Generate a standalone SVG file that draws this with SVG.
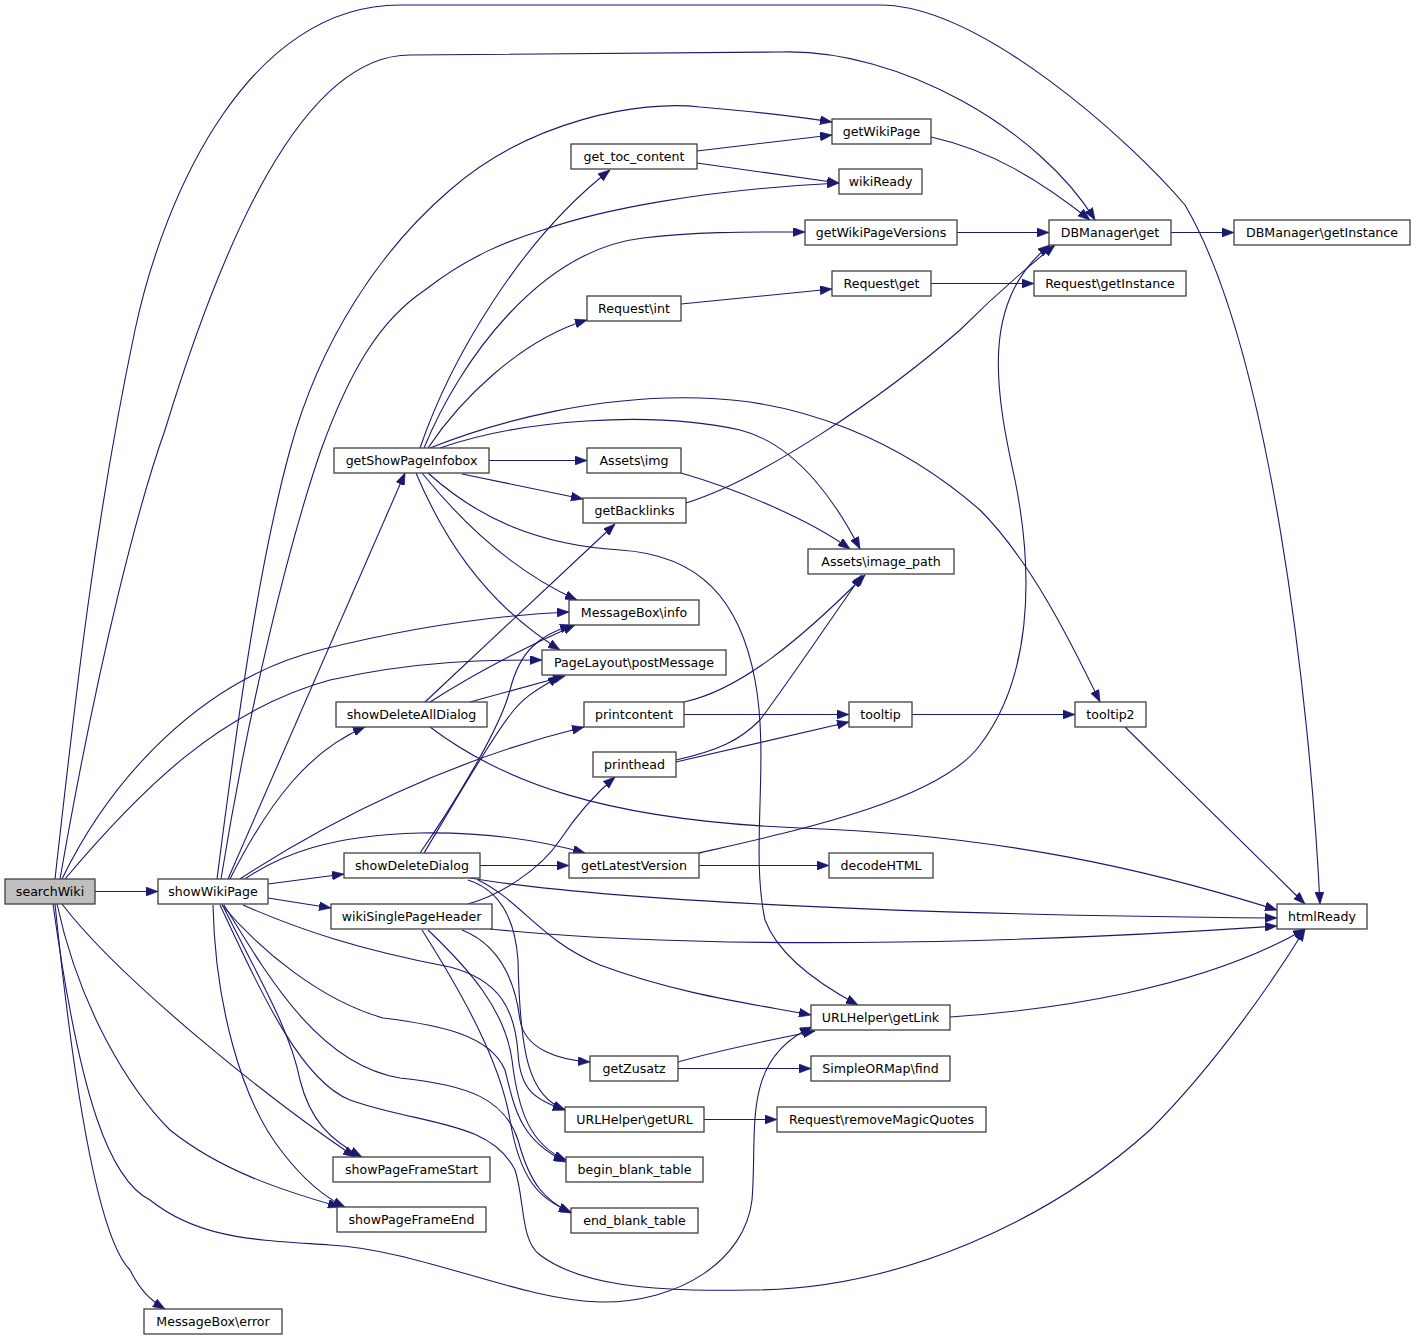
<svg xmlns="http://www.w3.org/2000/svg" width="1416" height="1341" viewBox="0 0 1416 1341">
<style>
.n rect{fill:#ffffff;stroke:#404040;stroke-width:1.3}
.n.root rect{fill:#bfbfbf}
.n text{font-family:"DejaVu Sans","Liberation Sans",sans-serif;font-size:12.6px;fill:#000;text-anchor:middle}
#edges path{fill:none;stroke:#191970;stroke-width:1.1;marker-end:url(#ah)}
</style>
<defs>
<marker id="ah" markerUnits="userSpaceOnUse" markerWidth="12" markerHeight="9" viewBox="0 0 10 7.5" refX="10" refY="3.75" orient="auto">
<path d="M0,0 L10,3.75 L0,7.5 z" fill="#191970" stroke="#191970" stroke-width="0.5"/>
</marker>
</defs>
<rect width="1416" height="1341" fill="#ffffff"/>
<g id="edges">
<path d="M95,891.5 L158,891.5"/>
<path d="M55,879 C75,700 95,520 135,330 C165,190 250,5 400,5 L880,5 C980,5 1130,140 1185,205 C1270,350 1310,700 1320,904"/>
<path d="M60,879 C100,650 140,500 165,430 C220,250 300,55 410,55 L780,52 C900,48 1040,130 1095,220"/>
<path d="M62,879 C110,780 200,680 320,650 C420,625 500,615 569,612"/>
<path d="M65,879 C140,790 220,710 330,680 C420,660 490,660 542,660"/>
<path d="M62,904 C120,980 270,1100 355,1157"/>
<path d="M57,904 C80,1010 130,1090 170,1130 C220,1170 280,1190 340,1207"/>
<path d="M53,904 C80,1100 110,1180 150,1200 C200,1240 260,1240 330,1245 C420,1250 520,1300 600,1302 C680,1303 745,1260 752,1200 C758,1130 740,1060 812,1027"/>
<path d="M55,904 C75,1100 100,1240 130,1270 C140,1290 150,1300 165,1309"/>
<path d="M228,879 L405,473"/>
<path d="M230,879 C270,800 310,750 365,727"/>
<path d="M268,884 L344,874"/>
<path d="M268,898 L331,908"/>
<path d="M240,879 C330,820 450,760 584,727"/>
<path d="M245,879 C280,855 330,835 420,833 C490,832 540,840 585,853"/>
<path d="M217,879 C240,700 260,560 290,450 C320,340 380,250 450,190 C530,120 640,100 700,107 C760,112 800,117 832,122"/>
<path d="M221,879 C250,700 290,540 321,450 C350,370 380,320 425,290 C470,255 510,240 543,230 C600,210 700,190 839,183"/>
<path d="M222,904 C260,980 290,1030 300,1080 C310,1120 330,1140 362,1157"/>
<path d="M213,905 C215,1000 240,1100 283,1153 C300,1175 320,1195 345,1207"/>
<path d="M220,905 C260,990 300,1080 350,1100 C420,1125 490,1120 515,1170 C525,1200 520,1240 540,1255 C580,1285 650,1292 750,1290 C900,1290 1050,1220 1150,1130 C1220,1060 1280,970 1305,929"/>
<path d="M243,905 C300,930 360,950 450,967 C500,980 515,1010 518,1053 C520,1090 535,1100 565,1110"/>
<path d="M222,905 C260,950 320,1000 383,1018 C440,1025 490,1035 505,1070 C515,1110 520,1140 566,1162"/>
<path d="M224,905 C270,980 320,1065 400,1078 C470,1085 505,1100 518,1140 C530,1185 545,1200 571,1213"/>
<path d="M420,448 C450,360 520,240 610,170"/>
<path d="M424,448 C460,360 540,250 643,238 C700,231 760,232 805,232"/>
<path d="M428,448 C460,400 520,340 587,320"/>
<path d="M489,460.5 L587,460.5"/>
<path d="M462,474 L583,499"/>
<path d="M440,448 C520,420 650,410 740,430 C800,445 840,510 860,549"/>
<path d="M430,448 C500,420 600,395 700,398 C800,400 900,440 980,510 C1030,560 1070,640 1100,702"/>
<path d="M422,473 C460,520 510,570 577,600"/>
<path d="M416,473 C440,530 480,600 560,650"/>
<path d="M428,473 C480,520 540,545 620,550 C700,555 740,600 755,680 C770,760 750,850 765,920 C780,960 830,990 858,1005"/>
<path d="M425,702 L615,524"/>
<path d="M430,702 C480,670 530,645 575,625"/>
<path d="M470,702 L565,676"/>
<path d="M430,727 C500,780 600,820 800,828 C1000,835 1150,870 1277,910"/>
<path d="M420,853 C450,810 500,730 510,690 C520,650 540,635 572,625"/>
<path d="M424,853 C450,810 490,740 510,715 C525,695 540,688 560,676"/>
<path d="M480,865.5 L569,865.5"/>
<path d="M470,878 C600,900 900,915 1277,918"/>
<path d="M478,880 C520,900 540,940 600,965 C680,995 760,1005 811,1015"/>
<path d="M468,880 C500,890 515,920 518,960 C520,1060 530,1095 565,1110"/>
<path d="M468,904 C500,895 540,870 560,840 C580,810 600,790 615,777"/>
<path d="M490,929 C700,950 1000,945 1277,926"/>
<path d="M462,930 C500,945 515,980 520,1020 C525,1050 560,1060 590,1062"/>
<path d="M428,930 C470,970 505,1010 512,1060 C518,1110 530,1145 566,1160"/>
<path d="M422,930 C460,990 500,1060 510,1120 C520,1180 540,1200 571,1212"/>
<path d="M697,151 L832,135"/>
<path d="M697,163 L839,183"/>
<path d="M931,137 C990,150 1040,180 1090,220"/>
<path d="M957,232.5 L1049,232.5"/>
<path d="M1171,232.5 L1234,232.5"/>
<path d="M681,304 L832,289"/>
<path d="M931,283.5 L1034,283.5"/>
<path d="M686,503 C760,480 880,400 960,330 C1000,290 1030,265 1055,245"/>
<path d="M699,853 C800,830 940,800 980,745 C1030,680 1035,580 1015,480 C995,390 980,300 1050,245"/>
<path d="M681,473 C740,490 810,520 850,549"/>
<path d="M684,702 C740,690 800,640 865,575"/>
<path d="M676,760 C720,750 740,740 760,720 C790,680 830,620 862,575"/>
<path d="M684,714.5 L849,714.5"/>
<path d="M676,762 L849,722"/>
<path d="M912,714.5 L1075,714.5"/>
<path d="M1125,727 L1305,904"/>
<path d="M699,865.5 L829,865.5"/>
<path d="M678,1062 C720,1050 770,1040 815,1031"/>
<path d="M678,1068.5 L811,1068.5"/>
<path d="M704,1119.5 L777,1119.5"/>
<path d="M950,1017 C1050,1010 1200,990 1305,929"/>
</g>
<g id="searchWiki" class="n root"><rect x="5" y="879" width="90" height="25"/><text x="50" y="895.5">searchWiki</text></g>
<g id="showWikiPage" class="n"><rect x="158" y="879" width="110" height="25"/><text x="213" y="895.5">showWikiPage</text></g>
<g id="MessageBox_error" class="n"><rect x="144" y="1309" width="138" height="25"/><text x="213" y="1325.5">MessageBox\error</text></g>
<g id="getShowPageInfobox" class="n"><rect x="334" y="448" width="155" height="25"/><text x="411.5" y="464.5">getShowPageInfobox</text></g>
<g id="showDeleteAllDialog" class="n"><rect x="336" y="702" width="151" height="25"/><text x="411.5" y="718.5">showDeleteAllDialog</text></g>
<g id="showDeleteDialog" class="n"><rect x="344" y="853" width="136" height="25"/><text x="412" y="869.5">showDeleteDialog</text></g>
<g id="wikiSinglePageHeader" class="n"><rect x="331" y="904" width="161" height="25"/><text x="411.5" y="920.5">wikiSinglePageHeader</text></g>
<g id="showPageFrameStart" class="n"><rect x="333" y="1157" width="157" height="25"/><text x="411.5" y="1173.5">showPageFrameStart</text></g>
<g id="showPageFrameEnd" class="n"><rect x="337" y="1207" width="149" height="25"/><text x="411.5" y="1223.5">showPageFrameEnd</text></g>
<g id="get_toc_content" class="n"><rect x="571" y="144" width="126" height="25"/><text x="634" y="160.5">get_toc_content</text></g>
<g id="Request_int" class="n"><rect x="587" y="296" width="94" height="25"/><text x="634" y="312.5">Request\int</text></g>
<g id="Assets_img" class="n"><rect x="587" y="448" width="94" height="25"/><text x="634" y="464.5">Assets\img</text></g>
<g id="getBacklinks" class="n"><rect x="583" y="498" width="103" height="25"/><text x="634.5" y="514.5">getBacklinks</text></g>
<g id="MessageBox_info" class="n"><rect x="569" y="600" width="130" height="25"/><text x="634" y="616.5">MessageBox\info</text></g>
<g id="PageLayout_postMessage" class="n"><rect x="542" y="650" width="184" height="25"/><text x="634" y="666.5">PageLayout\postMessage</text></g>
<g id="printcontent" class="n"><rect x="584" y="702" width="100" height="25"/><text x="634" y="718.5">printcontent</text></g>
<g id="printhead" class="n"><rect x="593" y="752" width="83" height="25"/><text x="634.5" y="768.5">printhead</text></g>
<g id="getLatestVersion" class="n"><rect x="569" y="853" width="130" height="25"/><text x="634" y="869.5">getLatestVersion</text></g>
<g id="getZusatz" class="n"><rect x="590" y="1056" width="88" height="25"/><text x="634" y="1072.5">getZusatz</text></g>
<g id="URLHelper_getURL" class="n"><rect x="565" y="1107" width="139" height="25"/><text x="634.5" y="1123.5">URLHelper\getURL</text></g>
<g id="begin_blank_table" class="n"><rect x="566" y="1157" width="137" height="25"/><text x="634.5" y="1173.5">begin_blank_table</text></g>
<g id="end_blank_table" class="n"><rect x="571" y="1208" width="127" height="25"/><text x="634.5" y="1224.5">end_blank_table</text></g>
<g id="getWikiPage" class="n"><rect x="832" y="119" width="99" height="25"/><text x="881.5" y="135.5">getWikiPage</text></g>
<g id="wikiReady" class="n"><rect x="839" y="169" width="83" height="25"/><text x="880.5" y="185.5">wikiReady</text></g>
<g id="getWikiPageVersions" class="n"><rect x="805" y="220" width="152" height="25"/><text x="881" y="236.5">getWikiPageVersions</text></g>
<g id="Request_get" class="n"><rect x="832" y="271" width="99" height="25"/><text x="881.5" y="287.5">Request\get</text></g>
<g id="Assets_image_path" class="n"><rect x="808" y="549" width="146" height="25"/><text x="881" y="565.5">Assets\image_path</text></g>
<g id="tooltip" class="n"><rect x="849" y="702" width="63" height="25"/><text x="880.5" y="718.5">tooltip</text></g>
<g id="decodeHTML" class="n"><rect x="829" y="853" width="104" height="25"/><text x="881" y="869.5">decodeHTML</text></g>
<g id="URLHelper_getLink" class="n"><rect x="811" y="1005" width="139" height="25"/><text x="880.5" y="1021.5">URLHelper\getLink</text></g>
<g id="SimpleORMap_find" class="n"><rect x="811" y="1056" width="139" height="25"/><text x="880.5" y="1072.5">SimpleORMap\find</text></g>
<g id="Request_removeMagicQuotes" class="n"><rect x="777" y="1107" width="209" height="25"/><text x="881.5" y="1123.5">Request\removeMagicQuotes</text></g>
<g id="DBManager_get" class="n"><rect x="1049" y="220" width="122" height="25"/><text x="1110" y="236.5">DBManager\get</text></g>
<g id="DBManager_getInstance" class="n"><rect x="1234" y="220" width="176" height="25"/><text x="1322" y="236.5">DBManager\getInstance</text></g>
<g id="Request_getInstance" class="n"><rect x="1034" y="271" width="152" height="25"/><text x="1110" y="287.5">Request\getInstance</text></g>
<g id="tooltip2" class="n"><rect x="1075" y="702" width="71" height="25"/><text x="1110.5" y="718.5">tooltip2</text></g>
<g id="htmlReady" class="n"><rect x="1277" y="904" width="90" height="25"/><text x="1322" y="920.5">htmlReady</text></g>
</svg>
